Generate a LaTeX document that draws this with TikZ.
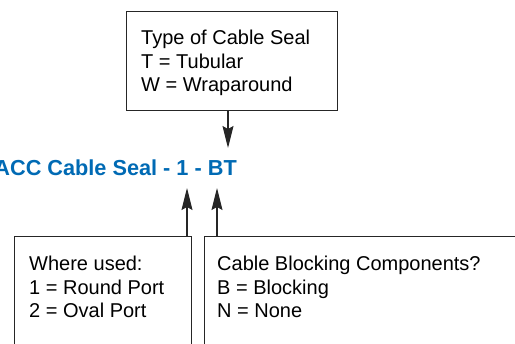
\documentclass[tikz,border=0pt]{standalone}
\usepackage{fontspec}
\setmainfont{Liberation Sans}
\usetikzlibrary{arrows.meta}
\definecolor{titleblue}{RGB}{0,106,180}
\tikzset{
  box/.style={draw=black!85, line width=1.1pt, minimum width=#1, inner sep=0pt, anchor=north west},
  boxtext/.style={anchor=base west, align=left, inner sep=0pt, font=\fontsize{20}{23.5}\selectfont},
  arr/.style={draw=black!85, line width=1.1pt, -{Stealth[length=22pt, width=11pt, inset=3pt]}},
}
\begin{document}
\begin{tikzpicture}[x=1pt, y=-1pt]
\useasboundingbox (0,0) rectangle (515,344);
\node[box=211pt, minimum height=99pt] (topbox) at (126,11) {};
\node[box=177pt, minimum height=140pt] (leftbox) at (14,236) {};
\node[box=330pt, minimum height=140pt] (rightbox) at (204,236) {};
\node[boxtext] (toptext) at (141,92) {Type of Cable Seal\\T = Tubular\\W = Wraparound};
\node[boxtext] (lefttext) at (29,318) {Where used:\\1 = Round Port\\2 = Oval Port};
\node[boxtext] (righttext) at (217,318) {Cable Blocking Components?\\B = Blocking\\N = None};
\node[anchor=base east, inner sep=0pt, text=titleblue, font=\fontsize{21.7}{26}\selectfont\bfseries] (title) at (237,176) {ACC Cable Seal - 1 - BT};
\coordinate (tdown) at (228,148);
\coordinate (tone) at (187,188);
\coordinate (tbt) at (217,188);
\draw[arr] (topbox.south -| tdown) -- (tdown);
\draw[arr] (leftbox.north -| tone) -- (tone);
\draw[arr] (rightbox.north -| tbt) -- (tbt);
\end{tikzpicture}
\end{document}
